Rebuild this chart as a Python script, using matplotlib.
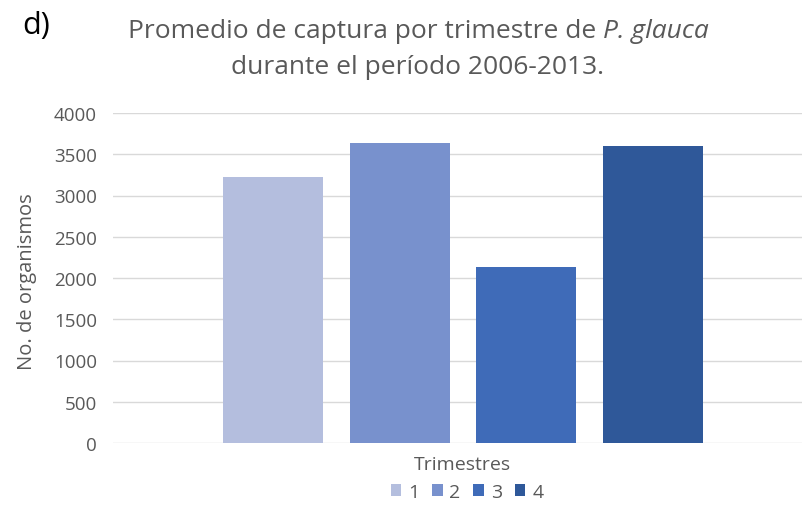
import matplotlib
matplotlib.use("Agg")
import matplotlib.pyplot as plt
from matplotlib.patches import Patch

series = ["1", "2", "3", "4"]
values = [3228, 3640, 2137, 3600]
colors = ["#B4BEDE", "#7891CD", "#3F6BB8", "#2F5899"]
yticks = [0, 500, 1000, 1500, 2000, 2500, 3000, 3500, 4000]

FONT = "Open Sans"
GRAY = "#595959"
plt.rcParams["font.family"] = [FONT, "DejaVu Sans"]

W, H = 803, 506
fig = plt.figure(figsize=(W / 100, H / 100), dpi=100)
ax = fig.add_axes([113 / W, 1 - 444 / H, (803 - 113) / W, (444 - 114) / H])

step = 0.1833
width = 0.145
for i, (s, v, c) in enumerate(zip(series, values, colors)):
    ax.bar((i - 1.5) * step, v, width=width, color=c, zorder=3)

ax.set_xlim(-0.507, 0.493)
ax.set_ylim(0, 4000)
ax.set_yticks(yticks)
ax.set_yticklabels([str(t) for t in yticks], color=GRAY, fontsize=13.5)
ax.tick_params(axis="y", length=0, pad=11.5)
ax.set_xticks([])
ax.grid(axis="y", color="#D9D9D9", linewidth=1, zorder=0)
for sp in ax.spines.values():
    sp.set_visible(False)

fig.text(27 / W, 1 - 282 / H, "No. de organismos", rotation=90, ha="center",
         va="center", color=GRAY, fontsize=14.5)
fig.text(462 / W, 1 - 465 / H, "Trimestres", ha="center", va="center",
         color=GRAY, fontsize=14)
fig.text(36 / W, 1 - 26 / H, "d)", ha="center", va="center", color="black",
         fontsize=22)

# Title line 1 with italic species name, centred as a whole
TS = 19
cx = 418 / W
y1 = 1 - 31 / H
t1 = fig.text(0, y1, "Promedio de captura por trimestre de ", ha="left",
              va="center", color=GRAY, fontsize=TS)
t2 = fig.text(0, y1, "P. glauca", ha="left", va="center", color=GRAY,
              fontsize=TS, style="italic")
fig.canvas.draw()
r = fig.canvas.get_renderer()
w1 = t1.get_window_extent(r).width / (W)
w2 = t2.get_window_extent(r).width / (W)
x0 = cx - (w1 + w2) / 2
t1.set_x(x0)
t2.set_x(x0 + w1)
fig.text(cx, 1 - 68 / H, "durante el período 2006-2013.",
         ha="center", va="center", color=GRAY, fontsize=TS)

handles = [Patch(facecolor=c, edgecolor="none") for c in colors]
leg = fig.legend(handles, series, loc="center", bbox_to_anchor=(467 / W, 1 - 493 / H),
                 ncol=4, frameon=False, handlelength=0.55, handleheight=0.55,
                 handletextpad=0.35, columnspacing=0.65, fontsize=14)
for t in leg.get_texts():
    t.set_color(GRAY)

fig.savefig("out.png", dpi=100, facecolor="white")
